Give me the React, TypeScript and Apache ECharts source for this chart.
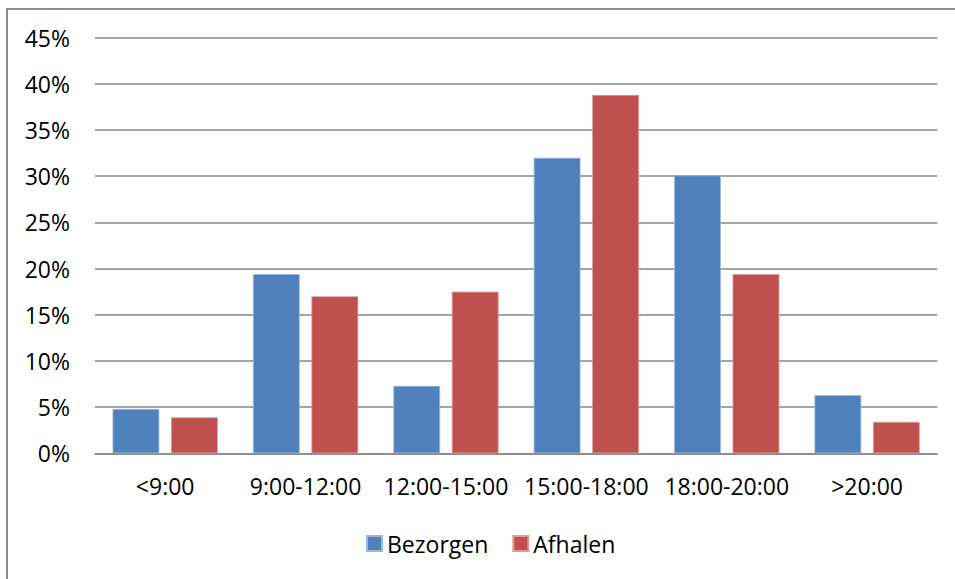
import React, { useEffect, useRef } from "react";
import * as echarts from "echarts";

const categories = ["<9:00", "9:00-12:00", "12:00-15:00", "15:00-18:00", "18:00-20:00", ">20:00"];
const bezorgen = [4.8, 19.4, 7.3, 32.0, 30.1, 6.3];
const afhalen = [3.9, 17.0, 17.5, 38.8, 19.4, 3.4];
const seriesNames = ["Bezorgen", "Afhalen"];
const FONT = "Open Sans";

export default function App() {
  const ref = useRef<HTMLDivElement>(null);
  useEffect(() => {
    if (!ref.current) return;
    const chart = echarts.init(ref.current, undefined, { renderer: "svg" });
    chart.setOption({
      animation: false,
      backgroundColor: "#ffffff",
      textStyle: { fontFamily: FONT },
      grid: { left: 95, right: 17.7, top: 37.7, bottom: 125.7, containLabel: false },
      legend: {
        data: seriesNames,
        left: 361,
        top: 527,
        icon: "rect",
        itemWidth: 15,
        itemHeight: 15,
        itemGap: 24,
        textStyle: { fontFamily: FONT, fontSize: 23, color: "#000" },
      },
      xAxis: {
        type: "category",
        data: categories,
        axisTick: { show: false },
        axisLine: { lineStyle: { color: "#868686", width: 1.5 } },
        axisLabel: { fontFamily: FONT, fontSize: 23, color: "#000", margin: 21, interval: 0 },
      },
      yAxis: {
        type: "value",
        min: 0,
        max: 45,
        interval: 5,
        axisLine: { show: false },
        axisTick: { show: false },
        splitLine: { lineStyle: { color: "#868686", width: 1.5 } },
        axisLabel: { fontFamily: FONT, fontSize: 23, color: "#000", margin: 25, formatter: "{value}%" },
      },
      series: [
        {
          name: seriesNames[0],
          type: "bar",
          data: bezorgen,
          barGap: "25%",
          barCategoryGap: "25%",
          itemStyle: { color: "#4F81BD", borderColor: "#9db7d9", borderWidth: 0.8 },
        },
        {
          name: seriesNames[1],
          type: "bar",
          data: afhalen,
          barGap: "25%",
          barCategoryGap: "25%",
          itemStyle: { color: "#C0504D", borderColor: "#dc9997", borderWidth: 0.8 },
        },
      ],
      graphic: [
        {
          type: "rect",
          shape: { x: 7, y: 9, width: 980, height: 600 },
          style: { fill: "none", stroke: "#8c8c8c", lineWidth: 2 },
          silent: true,
        },
      ],
    });
    return () => chart.dispose();
  }, []);
  return (
    <div
      ref={ref}
      style={{ position: "fixed", left: 0, top: 0, width: 955, height: 579 }}
    />
  );
}
